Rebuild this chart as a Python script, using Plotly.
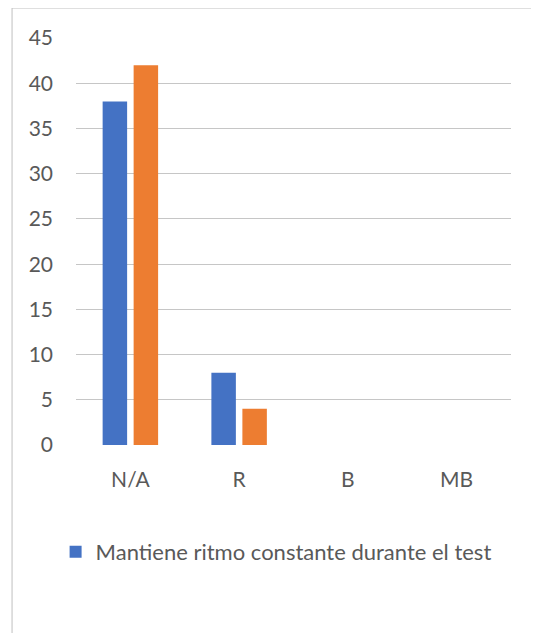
import plotly.graph_objects as go

categories = ["N/A", "R", "B", "MB"]
series_blue = [38, 8, 0, 0]
series_orange = [42, 4, 0, 0]
legend_name = "Mantiene ritmo constante durante el test"
y_ticks = [0, 5, 10, 15, 20, 25, 30, 35, 40, 45]

FONT = "Lato"
TXT = "#595959"

fig = go.Figure()
fig.add_trace(go.Bar(x=categories, y=series_blue, name=legend_name,
                     marker=dict(color="#4472C4", line=dict(width=0))))
fig.add_trace(go.Bar(x=categories, y=series_orange, name="Serie 2", showlegend=False,
                     marker=dict(color="#ED7D31", line=dict(width=0))))

fig.update_layout(
    width=531, height=625,
    margin=dict(l=68, r=28, t=30, b=188),
    paper_bgcolor="white", plot_bgcolor="white",
    barmode="group", bargap=0.43, bargroupgap=0.21,
    font=dict(family=FONT, size=21, color=TXT),
    showlegend=True,
    legend=dict(orientation="h", x=0.46, xanchor="center", y=-0.263, yanchor="middle",
                font=dict(family=FONT, size=22, color=TXT), itemwidth=30),
    xaxis=dict(showgrid=False, showline=False, ticks="", ticklabelstandoff=20,
               tickfont=dict(family=FONT, size=21, color=TXT)),
    yaxis=dict(range=[0, 45.01], tickvals=y_ticks, showgrid=True, gridcolor="#C6C6C6",
               gridwidth=1, zeroline=False, showline=False, ticks="",
               ticklabelstandoff=22, tickfont=dict(family=FONT, size=21, color=TXT)),
    shapes=[
        dict(type="line", xref="paper", yref="paper", x0=-0.147, x1=-0.147,
             y0=1.0737, y1=-0.6, line=dict(color="#BFBFBF", width=1)),
        dict(type="line", xref="paper", yref="paper", x0=-0.147, x1=1.2,
             y0=1.0737, y1=1.0737, line=dict(color="#BFBFBF", width=1)),
    ],
)

fig.write_html("out.html")
